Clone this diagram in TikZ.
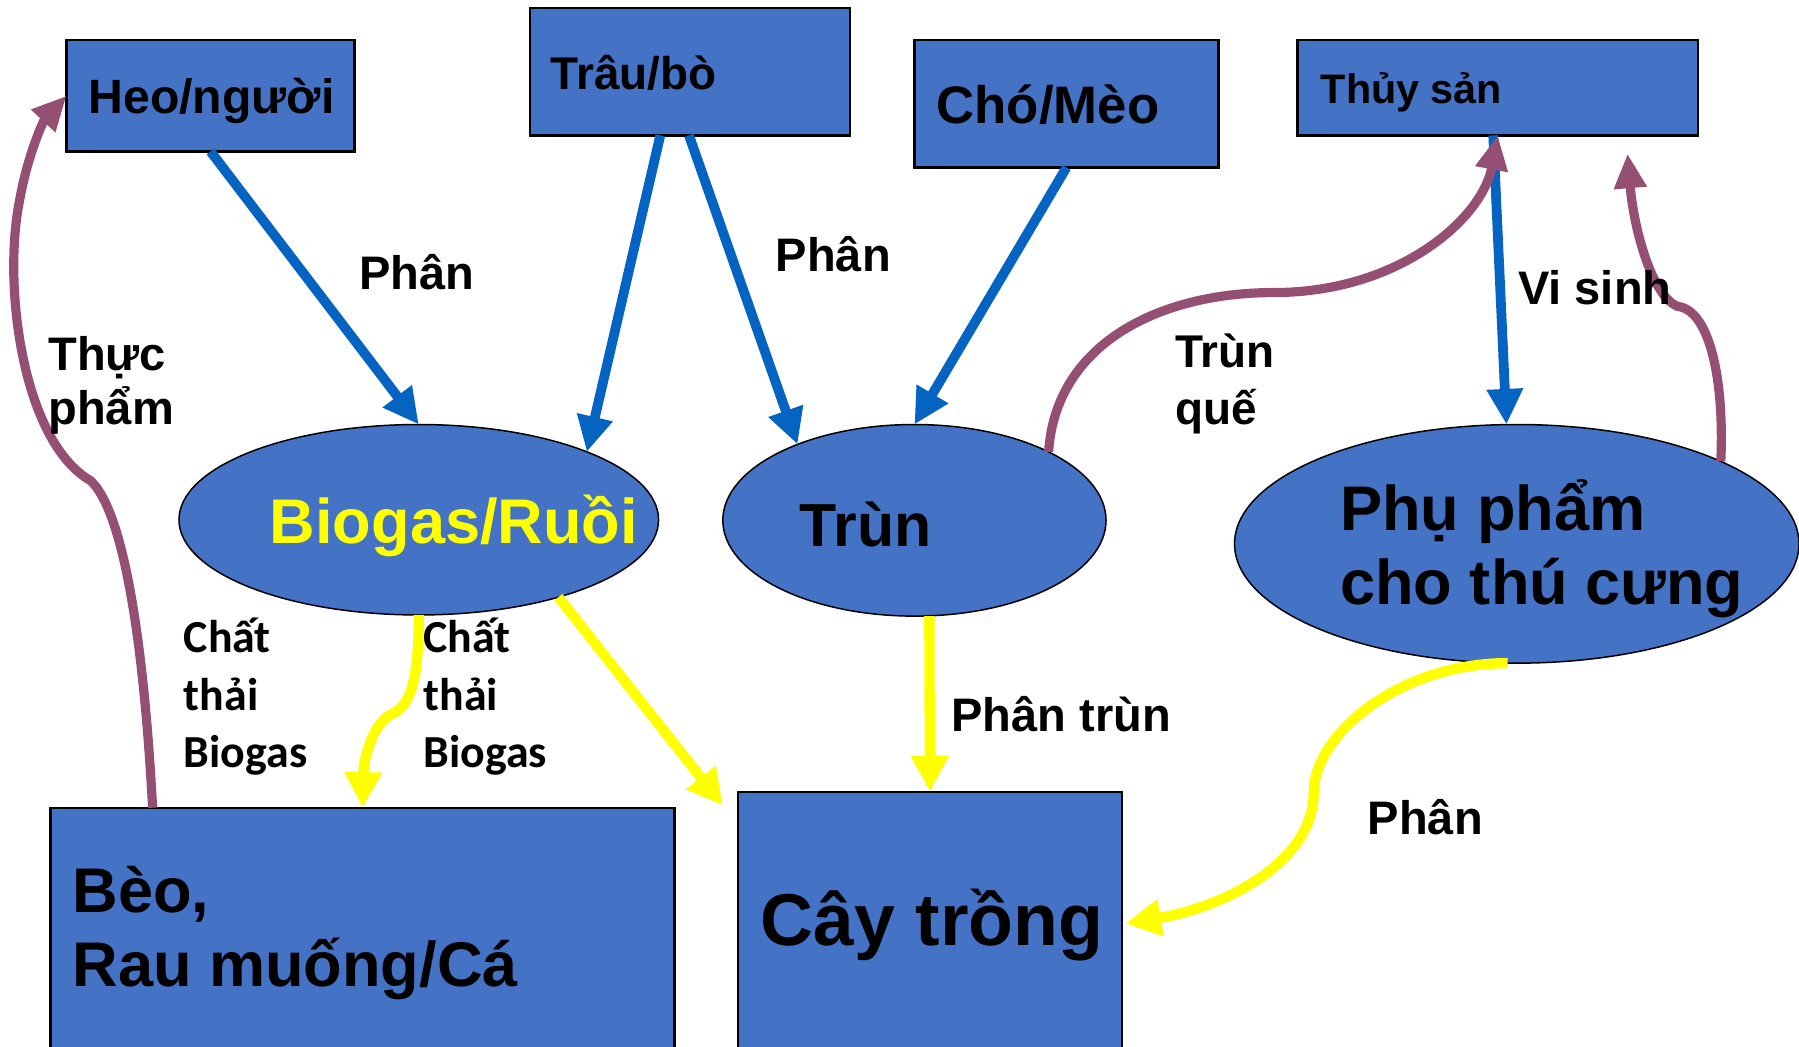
\documentclass[tikz,border=0pt]{standalone}
\usepackage{fontspec}
\setmainfont{Liberation Sans}
\newfontfamily\calfont{Carlito}
\usetikzlibrary{arrows.meta,calc,shapes.geometric}
\definecolor{boxblue}{HTML}{4472C4}
\definecolor{arrblue}{HTML}{0563C1}
\definecolor{plum}{HTML}{954F72}
\definecolor{yel}{HTML}{FFFF00}
\begin{document}
\begin{tikzpicture}[x=1pt,y=-1pt,
  box/.style={draw=black,line width=2pt,fill=boxblue,inner sep=0pt,outer sep=0pt},
  oval/.style={ellipse,draw=black,line width=1.3pt,fill=boxblue,inner sep=0pt,outer sep=0pt},
  txt/.style={anchor=base west,inner sep=0pt,align=left},
  barrow/.style={-{Triangle[length=31pt,width=30pt]},draw=arrblue,line width=8.5pt},
  parrow/.style={-{Triangle[length=30pt,width=27pt]},draw=plum,line width=8pt},
  yarrow/.style={-{Triangle[length=31pt,width=31pt]},draw=yel,line width=9pt},
]
\useasboundingbox (0,0) rectangle (1568,912);
% boxes
\node[box,minimum width=251pt,minimum height=97pt] (heo) at (183.5,83.5) {};
\node[box,minimum width=279pt,minimum height=111pt] (trau) at (601.5,62.5) {};
\node[box,minimum width=265pt,minimum height=111pt] (cho) at (929.5,90.5) {};
\node[box,minimum width=349pt,minimum height=83pt] (thuy) at (1305.5,76.5) {};
\node[box,minimum width=544pt,minimum height=240pt] (beo) at (316,824) {};
\node[box,minimum width=335pt,minimum height=250pt] (cay) at (810.5,815) {};
% ellipses
\node[oval,minimum width=418pt,minimum height=166pt] (bio) at (365,453) {};
\node[oval,minimum width=334pt,minimum height=167pt] (trun) at (797,453.5) {};
\node[oval,minimum width=492pt,minimum height=208pt] (phu) at (1322,474) {};
% box texts (multi-line nodes: base = last line)
\node[txt,font=\bfseries\fontsize{42}{50}\selectfont] (theo) at (77,99) {Heo/người};
\node[txt,font=\bfseries\fontsize{40}{48}\selectfont] (ttrau) at (480,78) {Trâu/bò};
\node[txt,font=\bfseries\fontsize{46}{55}\selectfont] (tcho) at (816,108) {Chó/Mèo};
\node[txt,font=\bfseries\fontsize{36}{43}\selectfont] (tthuy) at (1151,90) {Thủy sản};
\node[txt,font=\bfseries\fontsize{55}{65}\selectfont] (tbeo) at (63,860) {Bèo,\\Rau muống/Cá};
\node[txt,font=\bfseries\fontsize{64}{76}\selectfont] (tcay) at (663,824) {Cây trồng};
\node[txt,font=\bfseries\fontsize{55}{65}\selectfont,text=yel] (tbio) at (235,474) {Biogas/Ruồi};
\node[txt,font=\bfseries\fontsize{53}{63}\selectfont] (ttrun) at (697,476) {Trùn};
\node[txt,font=\bfseries\fontsize{55}{65}\selectfont] (tphu) at (1168,527) {Phụ phẩm\\cho thú cưng};
% blue arrows
\draw[barrow] (heo.south) -- (bio.north);
\draw[barrow] ($(trau.south)+(-26,0)$) -- (bio.22.5);
\draw[barrow] ($(trau.south)+(-1,0)$) -- (trun.147);
\draw[barrow] (cho.south) -- (trun.north);
\draw[barrow] ($(thuy.south)+(-4,0)$) -- ($(phu.north)+(-9,0)$);
% purple arrows
\coordinate (pt1) at ($(thuy.south)+(113,16)$);
\draw[parrow] ($(beo.north west)+(89,0)$) .. controls (127,590) and (112,450) .. (79,419)
  .. controls (20,385) and (2,250) .. (17,175) .. controls (24,135) and (38,105) .. (heo.west);
\draw[parrow] (trun.27) .. controls (920,300) and (1010,255) .. (1110,255)
  .. controls (1220,255) and (1292,190) .. (thuy.south);
\draw[parrow] (phu.22.5) .. controls (1503,330) and (1490,270) .. (1462,267)
  .. controls (1440,258) and (1424,200) .. (pt1);
% yellow arrows
\coordinate (yt1) at ($(cay.north west)+(-13,12)$);
\draw[yarrow] (bio.south) .. controls (365,592) and (358,615) .. (342,622)
  .. controls (325,630) and (317,660) .. (beo.north);
\draw[yarrow] (bio.-29.5) -- (yt1);
\draw[yarrow] ($(trun.south)+(13,0)$) -- (cay.north);
\draw[yarrow] ($(phu.south)+(-8,0)$) .. controls (1220,578) and (1145,640) .. (1145,691)
  .. controls (1145,750) and (1070,790) .. ($(cay.east)+(3,-10)$);
% labels
\node[txt,font=\bfseries\fontsize{41}{49}\selectfont] (l1) at (313,252) {Phân};
\node[txt,font=\bfseries\fontsize{41}{49}\selectfont] (l2) at (676,237) {Phân};
\node[txt,font=\bfseries\fontsize{41}{47}\selectfont] (l3) at (42,370) {Thực\\phẩm};
\node[txt,font=\bfseries\fontsize{40}{50}\selectfont] (l4) at (1024,370) {Trùn\\quế};
\node[txt,font=\bfseries\fontsize{41}{49}\selectfont] (l5) at (1323,265) {Vi sinh};
\node[txt,font=\calfont\bfseries\fontsize{40}{50}\selectfont] (l6) at (160,669) {Chất\\thải\\Biogas};
\node[txt,font=\calfont\bfseries\fontsize{40}{50}\selectfont] (l7) at (369,669) {Chất\\thải\\Biogas};
\node[txt,font=\bfseries\fontsize{41}{49}\selectfont] (l8) at (829,638) {Phân trùn};
\node[txt,font=\bfseries\fontsize{41}{49}\selectfont] (l9) at (1192,727) {Phân};
\end{tikzpicture}
\end{document}
